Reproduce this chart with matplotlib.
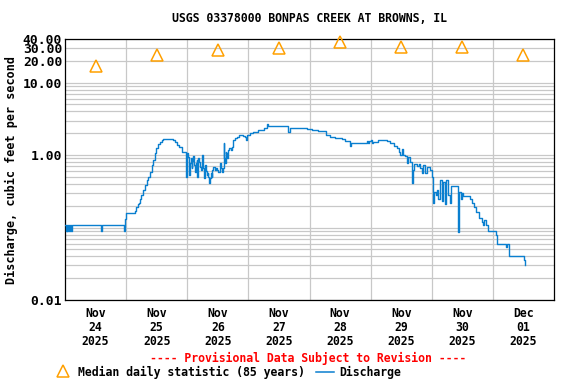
import matplotlib
matplotlib.use('Agg')
import matplotlib.pyplot as plt
from matplotlib.ticker import FixedLocator, FixedFormatter, NullFormatter
from matplotlib.lines import Line2D

# ---------------- data ----------------
title = "USGS 03378000 BONPAS CREEK AT BROWNS, IL"
ylabel = "Discharge, cubic feet per second"
provisional = "---- Provisional Data Subject to Revision ----"
legend_median = "Median daily statistic (85 years)"
legend_q = "Discharge"

# hours since 2025-11-24 00:00
hours = [0.0, 0.3, 0.6, 0.9, 1.2, 1.6, 1.9, 2.3, 2.7, 3.1,
         14.3, 14.7, 23.0, 23.4, 23.7, 24.1, 27.4, 27.9, 28.5, 29.0,
         29.4, 30.0, 30.7, 31.3, 32.0, 32.6, 33.3, 34.0, 34.6, 35.3,
         35.9, 36.6, 37.2, 37.9, 38.5, 42.5, 43.1, 43.8, 44.7, 45.8,
         46.8, 47.4, 47.7, 48.0, 48.4, 48.7, 49.0, 49.3, 49.7, 50.0,
         50.3, 50.7, 51.0, 51.3, 51.7, 51.9, 52.3, 52.7, 53.0, 53.3,
         53.6, 54.0, 54.5, 54.9, 55.2, 55.6, 56.0, 56.3, 56.6, 56.9,
         57.2, 57.6, 57.9, 58.2, 58.7, 59.2, 59.6, 60.1, 60.8, 61.1,
         61.5, 61.9, 62.4, 62.6, 62.8, 63.1, 63.4, 63.8, 64.1, 64.5,
         65.0, 65.4, 66.0, 66.7, 67.4, 68.4, 69.5, 70.0, 70.6, 71.0,
         71.3, 71.7, 72.6, 73.9, 75.0, 75.9, 77.0, 78.1, 79.4, 79.8,
         87.7, 88.2, 94.9, 96.9, 99.3, 102.5, 104.1, 106.0, 108.7, 110.0,
         112.0, 112.3, 118.5, 119.0, 119.5, 120.0, 120.4, 121.0, 123.0, 126.5,
         127.7, 129.0, 130.3, 131.2, 131.6, 132.2, 132.9, 133.5, 134.2, 134.7,
         135.5, 136.2, 136.5, 137.1, 138.1, 138.8, 139.4, 140.1, 140.7, 141.4,
         142.2, 143.3, 144.0, 144.2, 144.4, 144.9, 145.5, 146.0, 146.5, 147.3,
         148.0, 148.6, 149.3, 149.7, 150.2, 151.0, 151.5, 154.5, 154.7, 155.3,
         155.8, 156.3, 159.1, 159.8, 160.4, 161.3, 162.4, 163.7, 164.1, 164.6,
         165.3, 165.9, 169.3, 169.8, 173.1, 173.4, 174.4, 174.5, 180.3, 180.7]
discharge = [0.11, 0.09, 0.11, 0.09, 0.11, 0.09, 0.11, 0.09, 0.11, 0.11,
             0.09, 0.11, 0.09, 0.10, 0.13, 0.16, 0.17, 0.19, 0.21, 0.22,
             0.25, 0.28, 0.33, 0.39, 0.45, 0.50, 0.59, 0.73, 0.86, 1.06,
             1.24, 1.42, 1.53, 1.61, 1.65, 1.61, 1.53, 1.38, 1.30, 1.11,
             1.10, 1.06, 0.50, 1.06, 0.95, 0.53, 0.78, 0.90, 0.66, 0.82,
             0.96, 0.72, 0.59, 0.78, 0.86, 0.50, 0.90, 0.80, 0.69, 0.62,
             1.00, 0.66, 0.48, 0.72, 0.60, 0.53, 0.56, 0.50, 0.41, 0.48,
             0.56, 0.50, 0.62, 0.69, 0.62, 0.66, 0.62, 0.59, 0.77, 0.66,
             0.59, 0.66, 1.45, 0.90, 0.77, 1.10, 1.06, 0.90, 1.17, 1.24,
             1.17, 1.30, 1.61, 1.70, 1.79, 1.89, 1.89, 1.83, 1.79, 1.61,
             1.89, 1.89, 2.00, 2.06, 2.10, 2.22, 2.20, 2.34, 2.66, 2.56,
             2.10, 2.39, 2.27, 2.20, 2.15, 1.89, 1.79, 1.70, 1.65, 1.56,
             1.33, 1.48, 1.56, 1.48, 1.56, 1.61, 1.48, 1.50, 1.61, 1.55,
             1.45, 1.33, 1.24, 1.11, 1.00, 1.20, 1.00, 0.96, 0.77, 0.95,
             0.80, 0.41, 0.62, 0.75, 0.70, 0.75, 0.66, 0.56, 0.73, 0.56,
             0.69, 0.62, 0.56, 0.50, 0.22, 0.31, 0.28, 0.33, 0.25, 0.45,
             0.23, 0.43, 0.21, 0.45, 0.28, 0.22, 0.37, 0.088, 0.31, 0.25,
             0.30, 0.27, 0.25, 0.22, 0.19, 0.165, 0.134, 0.12, 0.108, 0.127,
             0.108, 0.09, 0.079, 0.059, 0.054, 0.059, 0.049, 0.040, 0.036, 0.030]

median_hours = [12, 36, 60, 84, 108, 132, 156, 180]
median_values = [17.1, 23.8, 28.5, 30.3, 36.7, 31.3, 31.3, 24.3]

day_labels = ["Nov\n24\n2025", "Nov\n25\n2025", "Nov\n26\n2025", "Nov\n27\n2025",
              "Nov\n28\n2025", "Nov\n29\n2025", "Nov\n30\n2025", "Dec\n01\n2025"]
day_centers = [12, 36, 60, 84, 108, 132, 156, 180]
day_bounds = [24, 48, 72, 96, 120, 144, 168]

ytick_values = [0.01, 1, 10, 20, 30, 40]
ytick_labels = ["0.01", "1.00", "10.00", "20.00", "30.00", "40.00"]
ygrid_minor = [0.02, 0.03, 0.04, 0.05, 0.06, 0.07, 0.08, 0.09,
               0.1, 0.2, 0.3, 0.4, 0.5, 0.6, 0.7, 0.8, 0.9,
               2, 3, 4, 5, 6, 7, 8, 9]

# ---------------- style ----------------
FONT = 'DejaVu Sans Mono'
BLUE = '#0a7fcf'
ORANGE = '#ffa000'
GRID = '#c8c8c8'

W, H = 576, 384
fig = plt.figure(figsize=(W / 100, H / 100), dpi=100)
ax = fig.add_axes([65 / W, 84 / H, 489 / W, 261 / H])

ax.plot(hours, discharge, drawstyle='steps-post', color=BLUE, lw=1.0, zorder=3)
ax.plot(median_hours, median_values, ls='none', marker='^', ms=8.5,
        mfc='none', mec=ORANGE, mew=1.1, zorder=4, clip_on=False)

ax.set_yscale('log')
ax.set_ylim(0.01, 40)
ax.set_xlim(0, 192)

ax.yaxis.set_major_locator(FixedLocator(ytick_values))
ax.yaxis.set_major_formatter(FixedFormatter(ytick_labels))
ax.yaxis.set_minor_locator(FixedLocator(ygrid_minor))
ax.yaxis.set_minor_formatter(NullFormatter())

ax.xaxis.set_major_locator(FixedLocator(day_bounds))
ax.xaxis.set_major_formatter(NullFormatter())
ax.xaxis.set_minor_locator(FixedLocator(day_centers))
ax.xaxis.set_minor_formatter(FixedFormatter(day_labels))

ax.grid(which='both', axis='y', color=GRID, lw=0.9, zorder=0)
ax.grid(which='major', axis='x', color=GRID, lw=0.9, zorder=0)
ax.set_axisbelow(True)
ax.tick_params(which='both', length=0)
ax.tick_params(axis='y', which='major', pad=2)
ax.tick_params(axis='x', which='minor', pad=5)

for lab in ax.get_yticklabels():
    lab.set_fontfamily(FONT)
    lab.set_fontweight('bold')
    lab.set_fontsize(9.4)
for lab in ax.get_xticklabels(minor=True):
    lab.set_fontfamily(FONT)
    lab.set_fontweight('bold')
    lab.set_fontsize(8.3)
    lab.set_linespacing(1.1)
    lab.set_horizontalalignment('center')

for s in ax.spines.values():
    s.set_color('black')
    s.set_linewidth(0.9)

ax.set_ylabel(ylabel, fontfamily=FONT, fontweight='bold', fontsize=8.5)
ax.yaxis.set_label_coords(-47 / 489, 0.5)

fig.text(309.5 / W, 1 - 19 / H, title, ha='center', va='center',
         fontfamily=FONT, fontweight='bold', fontsize=8.3)
fig.text(308 / W, 1 - 358 / H, provisional, ha='center', va='center',
         fontfamily=FONT, fontweight='bold', fontsize=8.3, color='#ff0000')

# legend row
ly = 1 - 372 / H
fig.add_artist(Line2D([63 / W], [1 - 371 / H], ls='none', marker='^', ms=8.5,
                      mfc='none', mec=ORANGE, mew=1.1, transform=fig.transFigure))
fig.text(78 / W, ly, legend_median, ha='left', va='center',
         fontfamily=FONT, fontweight='bold', fontsize=8.3)
fig.add_artist(Line2D([316 / W, 334 / W], [ly, ly], color=BLUE, lw=1.1,
                      transform=fig.transFigure))
fig.text(339 / W, ly, legend_q, ha='left', va='center',
         fontfamily=FONT, fontweight='bold', fontsize=8.3)

fig.savefig('out.png', dpi=100)
